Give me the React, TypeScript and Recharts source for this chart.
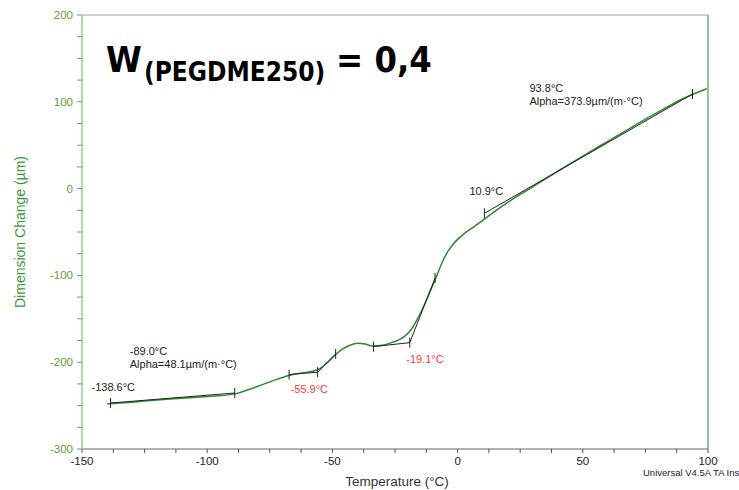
import { ComposedChart, Line, Scatter, XAxis, YAxis, ReferenceLine } from "recharts";

// measured curve (°C → µm)
const TEMP_C = [
  -140, -130, -120, -110, -100, -89, -80, -72, -67, -62, -58, -55, -52, -49, -46, -43, -40, -37, -34, -30,
  -26, -22, -19, -16, -13, -10, -8, -6, -4, -2, 0, 3, 7, 11, 20, 30, 40, 50, 60, 70, 80, 90, 99.5,
];
const DIM_UM = [
  -248, -246, -243.5, -241.5, -239.5, -236.5, -228, -219.5, -215, -212.3, -210.5, -207.5, -200.5, -192, -185,
  -180.5, -178.3, -179, -181.3, -180.5, -177, -172, -164, -150, -132, -112, -98, -84, -73, -65, -58.5, -51,
  -43, -34.5, -16, 2, 20, 37.5, 54.5, 71.5, 88, 103.5, 115,
];

// tangent constructions drawn by the analysis software
const TANGENT_A = [[-138.6, -247], [-89.0, -235.5]];
const TANGENT_B = [[-67.3, -214.2], [-55.9, -211.5], [-48.7, -190.5]];
const TANGENT_C = [[-33.6, -182], [-19.1, -177.5], [-9.0, -103]];
const TANGENT_D = [[10.7, -28.5], [93.8, 109]];

const LABEL_TEXT = [
  ["-138.6°C"],
  ["-89.0°C", "Alpha=48.1µm/(m·°C)"],
  ["-55.9°C"],
  ["-19.1°C"],
  ["10.9°C"],
  ["93.8°C", "Alpha=373.9µm/(m·°C)"],
];
const LABEL_ANCHOR = [TANGENT_A[0], TANGENT_A[1], TANGENT_B[1], TANGENT_C[1], TANGENT_D[0], TANGENT_D[1]];
const LABEL_RED = [false, false, true, true, false, false];

const X_TICKS = [
  -150, -137.5, -125, -112.5, -100, -87.5, -75, -62.5, -50, -37.5, -25, -12.5, 0, 12.5, 25, 37.5, 50, 62.5, 75,
  87.5, 100,
];
const X_LABELS = [-150, -100, -50, 0, 50, 100];
const Y_TICKS = [
  -300, -275, -250, -225, -200, -175, -150, -125, -100, -75, -50, -25, 0, 25, 50, 75, 100, 125, 150, 175, 200,
];
const Y_LABELS = [-300, -200, -100, 0, 100, 200];

const FONT = '"Liberation Sans", Arial, sans-serif';
const CURVE = "#2b8a2b";
const LABEL_OFFSET = [[-19, -12], [-105, -38], [-27, 21], [-3.5, 20], [-15, -18], [-163, -1.5]];

const toPts = (arr: number[][]) => arr.map(([x, y]) => ({ x, y }));
const curve = TEMP_C.map((x, i) => ({ x, y: DIM_UM[i] }));
const labels = LABEL_ANCHOR.map(([x, y], i) => ({ x, y, i }));

function XTick(props: any) {
  const { x, y, payload } = props;
  const major = X_LABELS.includes(payload.value);
  return (
    <g>
      <line x1={x} x2={x} y1={y} y2={y + 4} stroke="#555" />
      {major && (
        <text x={x} y={y + 16} textAnchor="middle" fontSize={11.5} fill="#222" fontFamily={FONT}>
          {payload.value}
        </text>
      )}
    </g>
  );
}

function YTick(props: any) {
  const { x, y, payload } = props;
  const major = Y_LABELS.includes(payload.value);
  return (
    <g>
      <line x1={x - 5} x2={x} y1={y} y2={y} stroke="#8a8a8a" />
      {major && (
        <text x={x - 9} y={y + 4} textAnchor="end" fontSize={11.5} fill="#5a9e34" fontFamily={FONT}>
          {payload.value}
        </text>
      )}
    </g>
  );
}

const tickDot = (p: any) => (
  <line key={`t-${p.index}`} x1={p.cx} x2={p.cx} y1={p.cy - 5} y2={p.cy + 5} stroke="#222" strokeWidth={1} />
);

function AnnoLabel(props: any) {
  const { cx, cy, payload } = props;
  const i = payload.i;
  const [dx, dy] = LABEL_OFFSET[i];
  return (
    <text
      x={cx + dx}
      y={cy + dy}
      fontSize={11}
      fontFamily={FONT}
      fill={LABEL_RED[i] ? "#ff3b3b" : "#222"}
    >
      {LABEL_TEXT[i].map((t, k) => (
        <tspan key={k} x={cx + dx} dy={k === 0 ? 0 : 12.8}>
          {t}
        </tspan>
      ))}
    </text>
  );
}

export default function App() {
  return (
    <div style={{ position: "absolute", left: 0, top: 0, width: 739, height: 490, background: "#fff" }}>
      <ComposedChart width={739} height={490} margin={{ top: 15, right: 31, bottom: 0, left: 0 }}>
        <XAxis
          type="number"
          dataKey="x"
          domain={[-150, 100]}
          ticks={X_TICKS}
          interval={0}
          tickSize={0}
          tickMargin={0}
          height={41}
          allowDataOverflow
          axisLine={{ stroke: "#666" }}
          tickLine={false}
          tick={XTick}
          label={{
            content: (p: any) => {
              const vb = p.viewBox;
              return (
                <text x={vb.x + vb.width / 2 + 2} y={vb.y + 37} textAnchor="middle" fontSize={13.5} fill="#333" fontFamily={FONT}>
                  Temperature (°C)
                </text>
              );
            },
          }}
        />
        <YAxis
          type="number"
          dataKey="y"
          domain={[-300, 200]}
          ticks={Y_TICKS}
          interval={0}
          tickSize={0}
          tickMargin={0}
          width={82}
          allowDataOverflow
          axisLine={{ stroke: "#8fd08f", strokeWidth: 1.5 }}
          tickLine={false}
          tick={YTick}
          label={{
            content: (p: any) => {
              const vb = p.viewBox;
              const cx = vb.x + 25;
              const cy = vb.y + vb.height / 2;
              return (
                <text
                  x={cx}
                  y={cy}
                  transform={`rotate(-90 ${cx} ${cy})`}
                  textAnchor="middle"
                  fontSize={14}
                  fill="#3a9a3a"
                  fontFamily={FONT}
                >
                  Dimension Change (µm)
                </text>
              );
            },
          }}
        />
        <ReferenceLine y={200} stroke="#a8a8a8" />
        <ReferenceLine x={100} stroke={CURVE} />
        <Line data={curve} dataKey="y" type="monotone" stroke={CURVE} strokeWidth={1.5} dot={false} isAnimationActive={false} />
        {[TANGENT_A, TANGENT_B, TANGENT_C, TANGENT_D].map((t, i) => (
          <Line
            key={i}
            data={toPts(t)}
            dataKey="y"
            type="linear"
            stroke="#222"
            strokeWidth={1}
            dot={tickDot}
            isAnimationActive={false}
          />
        ))}
        <Scatter data={labels} dataKey="y" shape={AnnoLabel} isAnimationActive={false} />
      </ComposedChart>
      <svg width={739} height={490} style={{ position: "absolute", left: 0, top: 0, pointerEvents: "none" }}>
        <text fontFamily='"DejaVu Sans Condensed", "DejaVu Sans", sans-serif' fontWeight="bold" fill="#000">
          <tspan x={106} y={72} fontSize={36}>W</tspan>
          <tspan x={144} y={81} fontSize={26}>(PEGDME250)</tspan>
          <tspan x={336} y={72} fontSize={36}>= 0,4</tspan>
        </text>
        <text x={643} y={476} fontSize={9.5} fill="#222" fontFamily={FONT}>
          Universal V4.5A TA Ins
        </text>
      </svg>
    </div>
  );
}
